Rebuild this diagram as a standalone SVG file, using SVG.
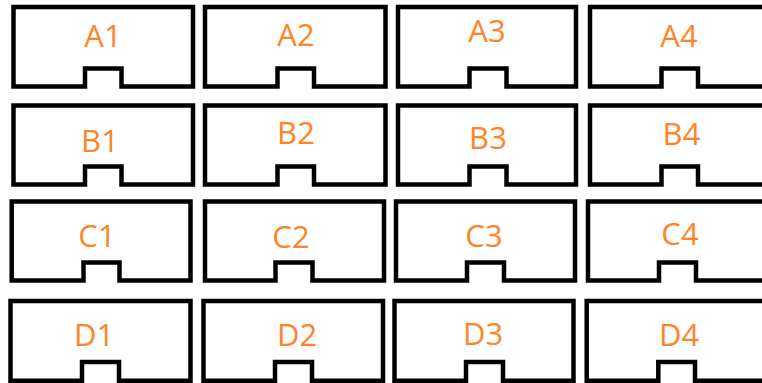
<svg xmlns="http://www.w3.org/2000/svg" width="762" height="383" viewBox="0 0 762 383">
<style>
.box{fill:#fff;stroke:#000;stroke-width:4.5;stroke-linejoin:miter}
.lbl{font-family:"Open Sans","Noto Sans",sans-serif;font-size:31px;fill:#FF8428;text-anchor:middle}
</style>
<rect width="762" height="383" fill="#fff"/>
<g id="A1"><path class="box" d="M13.5,7 H193 V86.5 H121.5 V68.5 H85 V86.5 H13.5 Z"/><text class="lbl" x="103" y="47">A1</text></g>
<g id="A2"><path class="box" d="M205,7 H385.5 V86.5 H314 V68.5 H277.5 V86.5 H205 Z"/><text class="lbl" x="296" y="46">A2</text></g>
<g id="A3"><path class="box" d="M398,7 H576 V86.5 H506.5 V68.5 H469.5 V86.5 H398 Z"/><text class="lbl" x="487" y="42">A3</text></g>
<g id="A4"><path class="box" d="M590,7 H780 V86.5 H698 V68.5 H661.5 V86.5 H590 Z"/><text class="lbl" x="679" y="47">A4</text></g>
<g id="B1"><path class="box" d="M13.5,105.5 H193 V184.5 H121.5 V166.5 H85 V184.5 H13.5 Z"/><text class="lbl" x="100" y="152">B1</text></g>
<g id="B2"><path class="box" d="M205,105.5 H385.5 V184.5 H314 V166.5 H277.5 V184.5 H205 Z"/><text class="lbl" x="296" y="144">B2</text></g>
<g id="B3"><path class="box" d="M398,105.5 H576 V184.5 H506.5 V166.5 H469.5 V184.5 H398 Z"/><text class="lbl" x="488" y="149">B3</text></g>
<g id="B4"><path class="box" d="M590,105.5 H780 V184.5 H698 V166.5 H661.5 V184.5 H590 Z"/><text class="lbl" x="681.5" y="145">B4</text></g>
<g id="C1"><path class="box" d="M11.7,201.5 H190.5 V280.5 H119.5 V262.5 H83.5 V280.5 H11.7 Z"/><text class="lbl" x="97" y="246.7">C1</text></g>
<g id="C2"><path class="box" d="M205,201.5 H384 V280.5 H312.5 V262.5 H275.5 V280.5 H205 Z"/><text class="lbl" x="291" y="248.3">C2</text></g>
<g id="C3"><path class="box" d="M396,201.5 H575 V280.5 H504 V262.5 H467 V280.5 H396 Z"/><text class="lbl" x="484" y="247">C3</text></g>
<g id="C4"><path class="box" d="M588,201.5 H780 V280.5 H696 V262.5 H659 V280.5 H588 Z"/><text class="lbl" x="680" y="245">C4</text></g>
<g id="D1"><path class="box" d="M10.5,301 H190.5 V380.7 H119 V362 H82 V380.7 H10.5 Z"/><text class="lbl" x="94" y="345.7">D1</text></g>
<g id="D2"><path class="box" d="M203.5,301 H383 V380.7 H312 V362 H275 V380.7 H203.5 Z"/><text class="lbl" x="297" y="346">D2</text></g>
<g id="D3"><path class="box" d="M394.5,301 H573.5 V380.7 H503 V362 H466 V380.7 H394.5 Z"/><text class="lbl" x="483" y="345">D3</text></g>
<g id="D4"><path class="box" d="M586.7,301 H780 V380.7 H695 V362 H658.3 V380.7 H586.7 Z"/><text class="lbl" x="679" y="345.7">D4</text></g>
<g id="connectors"/>
</svg>
